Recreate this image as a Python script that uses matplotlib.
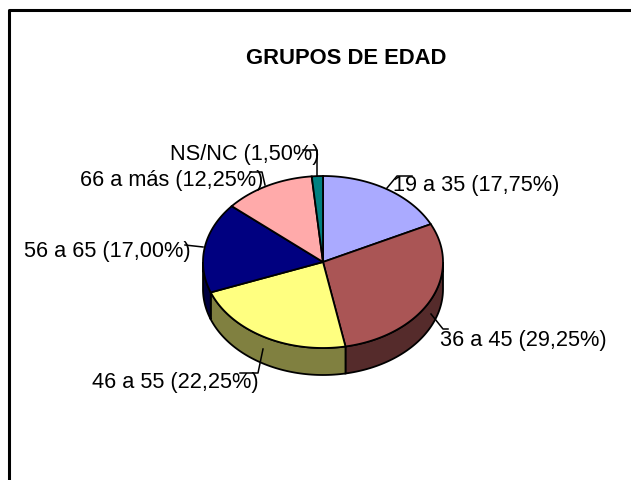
import numpy as np
import matplotlib
matplotlib.use("Agg")
import matplotlib.pyplot as plt

labels = ["19 a 35", "36 a 45", "46 a 55", "56 a 65", "66 a más", "NS/NC"]
values = [17.75, 29.25, 22.25, 17.00, 12.25, 1.50]
top_colors = ["#AAAAFF", "#AA5555", "#FFFF80", "#000080", "#FFAAAA", "#008080"]
side_colors = ["#555580", "#552B2B", "#808040", "#000040", "#805555", "#004040"]

# label anchor (left, vertical centre) in pixels
label_pos = [(393, 186), (440, 341), (92, 383), (24, 252), (80, 181), (170, 155)]
leaders = [
    [(387, 189), (397, 177), (412, 177)],
    [(431, 315), (443, 330), (448, 330)],
    [(263, 350), (258, 374), (240, 374)],
    [(203, 248), (185, 246)],
    [(265, 186), (262, 173), (250, 173)],
    [(316.5, 177), (316.5, 151), (303, 151)],
]

cx, cy = 323, 263
rx, ry = 120, 86
depth = 27

plt.rcParams["font.family"] = ["Liberation Sans", "DejaVu Sans"]

fig = plt.figure(figsize=(6.31, 4.81), dpi=100)
ax = fig.add_axes([0, 0, 1, 1])
ax.set_xlim(0, 631)
ax.set_ylim(481, 0)
ax.axis("off")

# chart frame, runs off the right and bottom edge
ax.plot([9, 9, 640], [490, 11, 11], color="black", lw=2.2, solid_capstyle="butt")

fractions = np.array(values) / sum(values) * 2 * np.pi
ends = np.cumsum(fractions)
starts = ends - fractions


def ellipse(t, dy=0):
    return cx + rx * np.sin(t), cy - ry * np.cos(t) + dy


# side wall, only the front half of the rim shows
for start, end, color in zip(starts, ends, side_colors):
    lo, hi = max(start, np.pi / 2), min(end, 3 * np.pi / 2)
    if hi <= lo:
        continue
    t = np.linspace(lo, hi, 60)
    x, y = ellipse(t)
    xb, yb = ellipse(t[::-1], depth)
    ax.fill(np.r_[x, xb], np.r_[y, yb], facecolor=color, edgecolor="black", lw=1.3, zorder=2)

# top face
for start, end, color in zip(starts, ends, top_colors):
    t = np.linspace(start, end, 80)
    x, y = ellipse(t)
    ax.fill(np.r_[cx, x], np.r_[cy, y], facecolor=color, edgecolor="black", lw=1.3, zorder=3)

for name, val, pos in zip(labels, values, label_pos):
    text = f"{name} ({val:.2f}%)".replace(".", ",")
    ax.text(pos[0], pos[1], text, fontsize=15.7, ha="left", va="center", color="black", zorder=5)

for line in leaders:
    pts = np.array(line)
    ax.plot(pts[:, 0], pts[:, 1], color="black", lw=1.1, zorder=4)

ax.text(346, 59, "GRUPOS DE EDAD", fontsize=15.8, fontweight="bold", ha="center", va="center")

fig.savefig("out.png", dpi=100)
